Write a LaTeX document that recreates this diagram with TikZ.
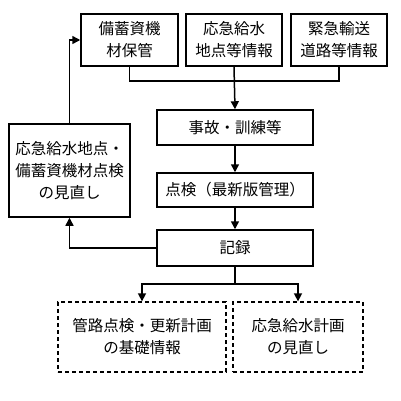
\documentclass[tikz,border=0pt]{standalone}
\usepackage{fontspec}
\newfontfamily\jpfont{Noto Sans CJK JP}
\usetikzlibrary{arrows.meta}

\begin{document}
\begin{tikzpicture}[x=1pt, y=-1pt, line width=1.5pt,
    box/.style={draw, align=center, inner sep=0pt, font=\jpfont\fontsize{15.5}{22}\selectfont},
    dbox/.style={box, dash pattern=on 4pt off 3pt, line width=1.3pt},
    arr/.style={-{Triangle[length=8pt, width=8pt]}}]
    \useasboundingbox (0,0) rectangle (401,400);

    \node[box, minimum width=97pt, minimum height=52pt] (stock) at (129.5,40) {備蓄資機\\材保管};
    \node[box, minimum width=96pt, minimum height=52pt] (water) at (234,40) {応急給水\\地点等情報};
    \node[box, minimum width=96pt, minimum height=52pt] (road) at (339,40) {緊急輸送\\道路等情報};

    \node[box, minimum width=156pt, minimum height=35pt] (event) at (235,127.5) {事故・訓練等};
    \node[box, minimum width=156pt, minimum height=34pt] (check) at (235,190) {点検（最新版管理）};
    \node[box, minimum width=156pt, minimum height=36pt] (record) at (235,248) {記録};

    \node[box, minimum width=121pt, minimum height=93pt] (review) at (69.5,170.5) {応急給水地点・\\備蓄資機材点検\\の見直し};

    \node[dbox, minimum width=168pt, minimum height=70pt] (pipe) at (142,337) {管路点検・更新計画\\の基礎情報};
    \node[dbox, minimum width=130pt, minimum height=70pt] (plan) at (298,337) {応急給水計画\\の見直し};

    \draw (stock.south) -- ++(0,14) -| (road.south);
    \draw[arr] (water.south) -- (event.north);
    \draw[arr] (event.south) -- (check.north);
    \draw[arr] (check.south) -- (record.north);

    \draw[arr] (record.west) -| (review.south);
    \draw[arr] (review.north) |- (stock.west);

    \draw (record.south) -- ++(0,17) coordinate (split);
    \draw[arr] (split) -| (pipe.north);
    \draw[arr] (split) -| (plan.north);
\end{tikzpicture}
\end{document}
